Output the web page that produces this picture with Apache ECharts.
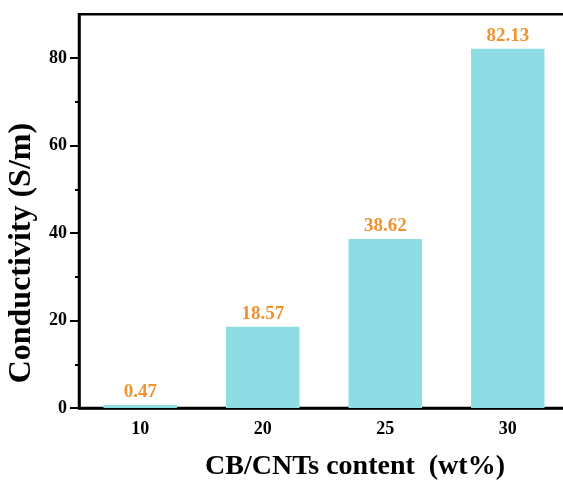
<!DOCTYPE html>
<html><head><meta charset="utf-8">
<script src="https://cdn.jsdelivr.net/npm/echarts@6/dist/echarts.min.js"></script>
<style>html,body{margin:0;padding:0;background:#fff}#c{width:563px;height:484px}</style>
</head><body><div id="c"></div>
<script>
var categories = ['10', '20', '25', '30'];
var conductivity = [0.47, 18.57, 38.62, 82.13];
var valueLabels = ['0.47', '18.57', '38.62', '82.13'];
var yTicks = [0, 20, 40, 60, 80];
var yMinorTicks = [10, 30, 50, 70];

var FONT = '"Times New Roman", "Liberation Serif", serif';
var chart = echarts.init(document.getElementById('c'));
chart.setOption({
  animation: false,
  grid: { left: 79, width: 490, top: 14.25, height: 393.75, show: true, borderColor: '#000', borderWidth: 2.5,
    containLabel: false, outerBoundsMode: 'none' },
  xAxis: [{
    type: 'category', data: categories,
    axisLine: { lineStyle: { color: '#000', width: 2.5 } },
    axisTick: { alignWithLabel: true, length: 8, lineStyle: { color: '#000', width: 2 } },
    axisLabel: { color: '#000', fontFamily: FONT, fontWeight: 'bold', fontSize: 18, margin: 12 },
    name: 'CB/CNTs content  (wt%)', nameLocation: 'middle', nameGap: 45,
    nameTextStyle: { color: '#000', fontFamily: FONT, fontWeight: 'bold', fontSize: 28, padding: [0, 0, 0, 62] }
  }, {
    type: 'category', data: categories, position: 'bottom',
    axisLine: { show: false },
    axisTick: { length: 4, lineStyle: { color: '#000', width: 2 } },
    axisLabel: { show: false }
  }],
  yAxis: [{
    type: 'value', min: 0, max: 90, interval: 20,
    splitLine: { show: false },
    axisLine: { show: true, lineStyle: { color: '#000', width: 2.5 } },
    axisTick: { show: true, length: 9, customValues: yTicks, lineStyle: { color: '#000', width: 2 } },
    axisLabel: { color: '#000', fontFamily: FONT, fontWeight: 'bold', fontSize: 18, margin: 12, customValues: yTicks },
    name: 'Conductivity (S/m)', nameLocation: 'middle', nameGap: 40,
    nameTextStyle: { color: '#000', fontFamily: FONT, fontWeight: 'bold', fontSize: 32, padding: [0, 84, 0, 0] }
  }, {
    type: 'value', min: 0, max: 90, position: 'left',
    splitLine: { show: false },
    axisLine: { show: false },
    axisTick: { show: true, length: 4, customValues: yMinorTicks, lineStyle: { color: '#000', width: 2 } },
    axisLabel: { show: false }
  }],
  series: [{
    type: 'bar', data: conductivity, barWidth: '60%', barMinHeight: 3,
    itemStyle: { color: '#8fdde4' },
    label: { show: true, position: 'top', distance: 3, color: '#f0922d', fontFamily: FONT, fontWeight: 'bold', fontSize: 19,
      formatter: function (p) { return valueLabels[p.dataIndex]; } }
  }]
});
</script></body></html>
